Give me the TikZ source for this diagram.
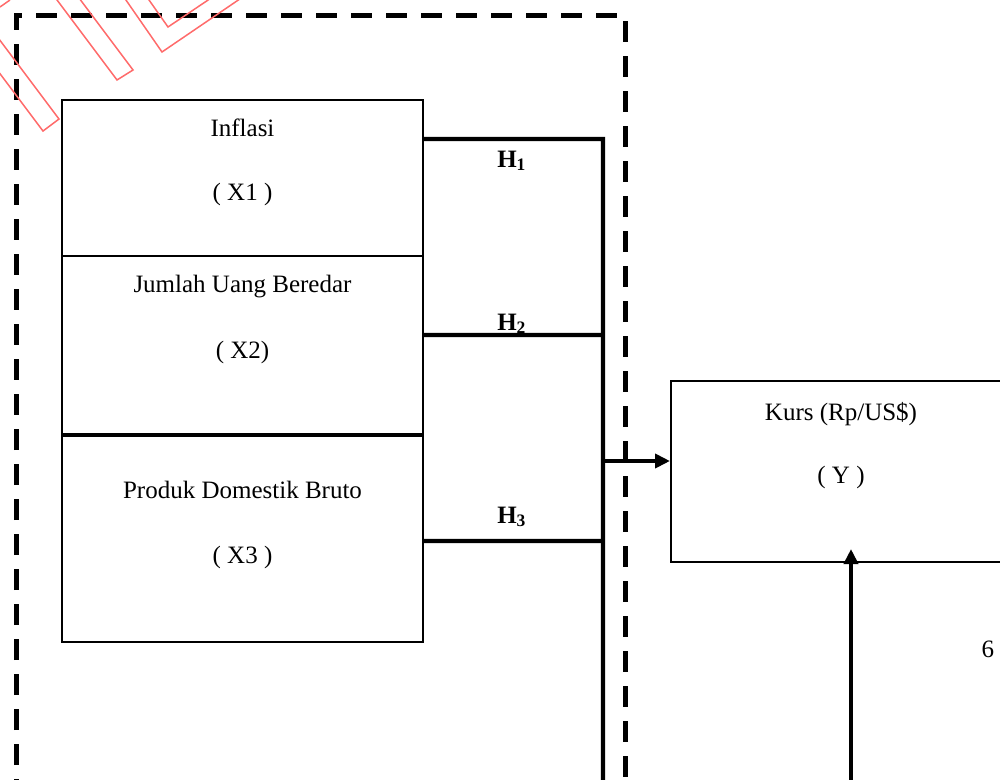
\documentclass[tikz,border=0pt]{standalone}
\usepackage{fontspec}
\setmainfont{Liberation Serif}
\usepackage{xcolor}
\definecolor{stampRed}{HTML}{FF6B6B}
\usetikzlibrary{arrows.meta, positioning, calc}
\tikzset{
    varbox/.style={rectangle, draw, line width=0.8pt, inner sep=0pt,
                   minimum width=144.4pt, anchor=north west},
    boxtext/.style={anchor=base, inner sep=0pt, font=\normalsize},
    hyp/.style={anchor=base, inner sep=0pt, font=\bfseries},
    link/.style={-, line width=1.7pt, line join=miter},
    arrowlink/.style={-{Triangle[length=6pt, width=5.6pt]}, line width=1.7pt},
    frameline/.style={line width=2pt, dash pattern=on 8.4pt off 5.6pt},
    stampline/.style={stampRed, line width=0.6pt},
}

\begin{document}
\begin{tikzpicture}[x=0.4pt, y=-0.4pt]
    \clip (0,0) rectangle (1000,780);
    \useasboundingbox (0,0) rectangle (1000,780);

    % dashed frame round the independent variables
    \draw[frameline] (16,800) -- (16,15) -- (625,15) -- (625,800);

    % variable boxes
    \node[varbox, minimum height=62.4pt] (inf) at (61,99) {};
    \node[varbox, minimum height=72pt] (jub) at (61,255) {};
    \node[varbox, minimum height=83.2pt] (pdb) at (61,433) {};
    \node[varbox, minimum width=136pt, minimum height=72.4pt] (kurs) at (670,380) {};

    \node[boxtext] (infname) at ([yshift=-14.8pt]inf.north) {Inflasi};
    \node[boxtext] (infvar) at ([yshift=-40.4pt]inf.north) {( X1 )};
    \node[boxtext] (jubname) at ([yshift=-14.8pt]jub.north) {Jumlah Uang Beredar};
    \node[boxtext] (jubvar) at ([yshift=-41.2pt]jub.north) {( X2)};
    \node[boxtext] (pdbname) at ([yshift=-26pt]pdb.north) {Produk Domestik Bruto};
    \node[boxtext] (pdbvar) at ([yshift=-52pt]pdb.north) {( X3 )};
    \node[boxtext] (kursname) at ([yshift=-16pt]kurs.north) {Kurs (Rp/US\$)};
    \node[boxtext] (kursvar) at ([yshift=-41.2pt]kurs.north) {( Y )};

    % junctions on the trunk line
    \coordinate (j1) at (603,139);
    \coordinate (j2) at (603,335);
    \coordinate (j3) at (603,541);
    \coordinate (jmid) at (603,461);
    \coordinate (jend) at (603,800);
    \coordinate (ysrc) at (851,800);
    \coordinate (ytip) at (851,549);

    \draw[link] ([yshift=-16pt]inf.north east) -- (j1) -- (jend);
    \draw[link] ([yshift=-32pt]jub.north east) -- (j2);
    \draw[link] ([yshift=-43.2pt]pdb.north east) -- (j3);
    \draw[arrowlink] (jmid) -- (jmid -| kurs.west);
    \draw[arrowlink] (ysrc) -- (ytip);

    \node[hyp] (h1) at (512,167) {H\textsubscript{1}};
    \node[hyp] (h2) at (512,330) {H\textsubscript{2}};
    \node[hyp] (h3) at (512,523) {H\textsubscript{3}};

    \node[boxtext, anchor=base west] (page) at (981,657) {6};

    % stamp in the top left corner
    \draw[stampline] (0,7) -- (10,0);
    \draw[stampline] (-47,11) -- (43,131) -- (59,119) -- (-31,-1);
    \draw[stampline] (51,-8) -- (117,80) -- (133,70) -- (67,-18);
    \draw[stampline] (119,-10) -- (162,52) -- (253,-10);
    \draw[stampline] (142,-10) -- (168,27) -- (223,-10);
\end{tikzpicture}
\end{document}
